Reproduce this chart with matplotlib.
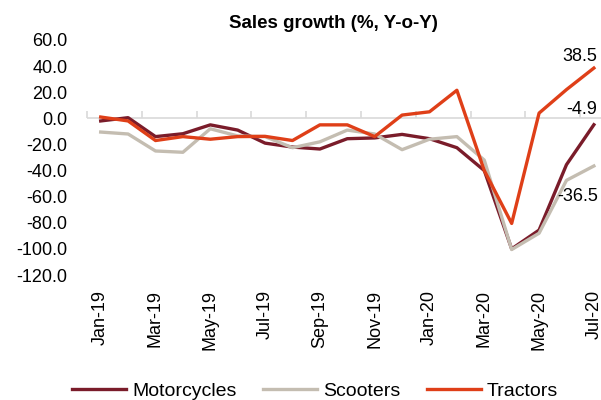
import matplotlib
matplotlib.use('Agg')
import matplotlib.pyplot as plt
import numpy as np

plt.rcParams['font.family'] = ['Liberation Sans', 'DejaVu Sans']

months = ['Jan-19', 'Feb-19', 'Mar-19', 'Apr-19', 'May-19', 'Jun-19', 'Jul-19', 'Aug-19',
          'Sep-19', 'Oct-19', 'Nov-19', 'Dec-19', 'Jan-20', 'Feb-20', 'Mar-20', 'Apr-20',
          'May-20', 'Jun-20', 'Jul-20']
motorcycles = [-2.0, 0.5, -14.0, -11.8, -5.0, -9.0, -19.0, -22.0, -23.5, -15.6,
               -15.0, -12.3, -15.6, -22.5, -40.0, -100.0, -85.6, -35.5, -4.9]
scooters = [-10.5, -12.0, -25.0, -26.0, -8.0, -13.5, -14.0, -22.5, -18.0, -9.0,
            -12.0, -24.0, -16.0, -14.0, -32.0, -100.5, -88.0, -47.5, -36.5]
tractors = [1.0, -2.0, -17.0, -14.0, -16.0, -14.0, -13.8, -17.0, -5.0, -5.0,
            -14.0, 2.5, 5.0, 21.5, -40.0, -80.5, 4.0, 22.0, 38.5]

cols = ['#7a1c2a', '#c4bdb1', '#df3f18']
names = ['Motorcycles', 'Scooters', 'Tractors']
series = [motorcycles, scooters, tractors]
txtsize = 13

x = np.arange(len(months))
fig = plt.figure(figsize=(6.01, 4.0), dpi=100)
ax = fig.add_axes([87/601, 0.3125, 1 - 87/601, 0.5875])

# zero line, with category boundary ticks below it
ax.axhline(0, color='#d9d9d9', lw=1.2, zorder=1)
for s, c, n in zip(series, cols, names):
    ax.plot(x, s, color=c, lw=2.4, label=n, zorder=3)

ax.set_xlim(-0.5, 18.26)
ax.set_ylim(-120, 60)
yt = np.arange(-120, 61, 20)
ax.set_yticks(yt)
ax.set_yticklabels(['%.1f' % v for v in yt], fontsize=txtsize)
ax.set_xticks(x[::2])
ax.set_xticklabels(months[::2], rotation=90, fontsize=txtsize)
ax.tick_params(axis='both', length=0)
ax.tick_params(axis='x', pad=11)
ax.tick_params(axis='y', pad=14)
for sp in ax.spines.values():
    sp.set_visible(False)

sec = ax.secondary_xaxis(120/180)
sec.set_xticks(np.arange(-0.5, 19, 2))
sec.tick_params(axis='x', direction='out', length=5, color='#d9d9d9', width=1.2,
                labelbottom=False, labeltop=False)
sec.spines['bottom'].set_visible(False)
sec.spines['top'].set_visible(False)

fig.text(333/601, 1 - 23/400, 'Sales growth (%, Y-o-Y)', fontsize=13.5, fontweight='bold',
         ha='center', va='center')

# labels for the last values
ax.annotate('%.1f' % tractors[-1], (x[-1], tractors[-1]), xytext=(-10, 8), textcoords='offset points',
            ha='center', va='center', fontsize=txtsize)
ax.annotate('%.1f' % motorcycles[-1], (x[-1], motorcycles[-1]), xytext=(-9, 11), textcoords='offset points',
            ha='center', va='center', fontsize=txtsize)
ax.annotate('%.1f' % scooters[-1], (x[-1], scooters[-1]), xytext=(-12, -22), textcoords='offset points',
            ha='center', va='center', fontsize=txtsize)

fig.legend(loc='center', bbox_to_anchor=(315/601, 1 - 391/400), ncol=3, frameon=False, fontsize=14,
           handlelength=2.8, columnspacing=1.35, handletextpad=0.3)

fig.savefig('out.png', dpi=100)
